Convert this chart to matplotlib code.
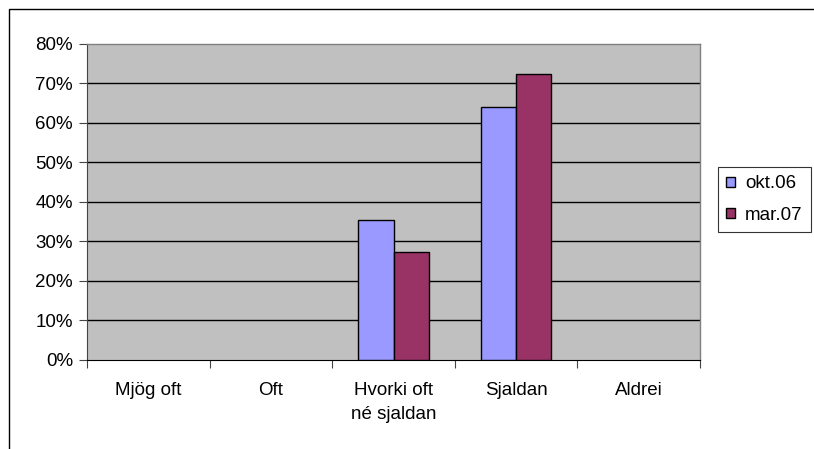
import numpy as np
import matplotlib.pyplot as plt
from matplotlib.lines import Line2D
from matplotlib.patches import Patch

categories = ["Mjög oft", "Oft", "Hvorki oft\nné sjaldan", "Sjaldan", "Aldrei"]
okt06 = [0, 0, 35.5, 64.0, 0]
mar07 = [0, 0, 27.2, 72.4, 0]
yticks = [0, 10, 20, 30, 40, 50, 60, 70, 80]
series_names = ["okt.06", "mar.07"]

plt.rcParams['font.family'] = ['Liberation Sans', 'DejaVu Sans']
fs = 13.5

W, H = 814, 449
fig = plt.figure(figsize=(W / 100, H / 100), dpi=100)

# outer chart border (cut off at right and bottom)
fig.add_artist(Line2D([8.5 / W, 8.5 / W, 1.0], [0.0, 1 - 9 / H, 1 - 9 / H],
                      transform=fig.transFigure, color='black', linewidth=1.0))

ax = fig.add_axes([87 / W, 1 - 360 / H, (700 - 87) / W, (360 - 43.5) / H])
ax.set_facecolor('#C0C0C0')

x = np.arange(len(categories))
w = 0.2857
lw1 = [1.0 if v > 0 else 0 for v in okt06]
lw2 = [1.0 if v > 0 else 0 for v in mar07]
ax.bar(x - w / 2, okt06, width=w, color='#9999FF', edgecolor='black', linewidth=lw1, zorder=3)
ax.bar(x + w / 2, mar07, width=w, color='#993366', edgecolor='black', linewidth=lw2, zorder=3)

ax.set_xlim(-0.5, len(categories) - 0.5)
ax.set_ylim(0, 80)
ax.set_yticks(yticks)
ax.set_yticklabels([f"{t}%" for t in yticks], fontsize=fs)
for t in yticks[1:-1]:
    ax.axhline(t, color='black', linewidth=1.0, zorder=1)

ax.set_xticks(x)
ax.set_xticklabels(categories, fontsize=fs, linespacing=1.55)
ax.set_xticks(np.arange(len(categories) + 1) - 0.5, minor=True)
ax.tick_params(axis='x', which='major', length=0, pad=16)
ax.tick_params(axis='x', which='minor', length=6, direction='out', width=0.8, color='#444444')
ax.tick_params(axis='y', length=6, direction='out', width=0.8, color='#444444', pad=4)

for side in ['top', 'right']:
    ax.spines[side].set_color('#808080')
    ax.spines[side].set_linewidth(1.0)
ax.spines['left'].set_color('#444444')
ax.spines['bottom'].set_color('black')

handles = [Patch(facecolor='#9999FF', edgecolor='black', label=series_names[0]),
           Patch(facecolor='#993366', edgecolor='black', label=series_names[1])]
leg = fig.legend(handles=handles, loc='upper left', bbox_to_anchor=(718 / W, 1 - 167 / H),
                 fontsize=fs, frameon=True, fancybox=False, edgecolor='black',
                 handlelength=0.45, handleheight=0.45, handletextpad=0.55,
                 borderpad=0.45, labelspacing=0.75, borderaxespad=0)
leg.get_frame().set_linewidth(0.8)

fig.savefig('out.png', dpi=100)
